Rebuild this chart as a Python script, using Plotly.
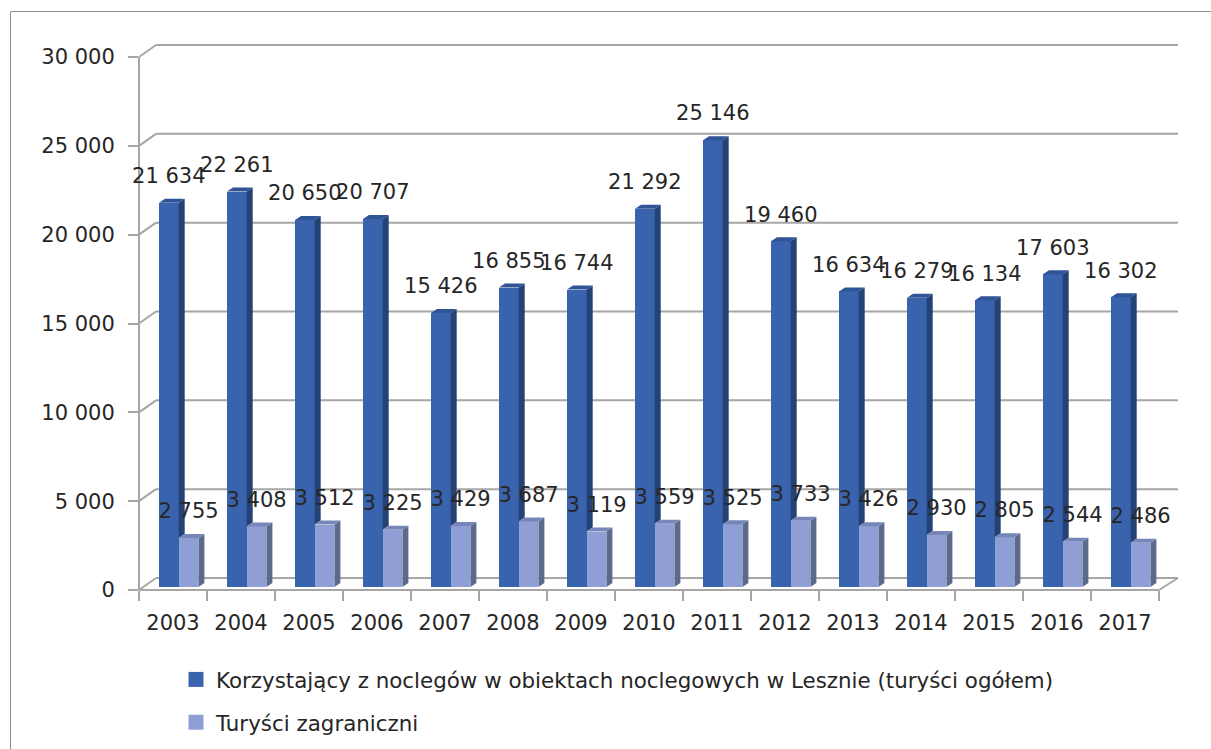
import plotly.graph_objects as go

years = [2003, 2004, 2005, 2006, 2007, 2008, 2009, 2010, 2011, 2012, 2013, 2014, 2015, 2016, 2017]
total = [21634, 22261, 20650, 20707, 15426, 16855, 16744, 21292, 25146, 19460, 16634, 16279, 16134, 17603, 16302]
foreign = [2755, 3408, 3512, 3225, 3429, 3687, 3119, 3559, 3525, 3733, 3426, 2930, 2805, 2544, 2486]
name_total = "Korzystający z noclegów w obiektach noclegowych w Lesznie (turyści ogółem)"
name_foreign = "Turyści zagraniczni"
y_ticks = [0, 5000, 10000, 15000, 20000, 25000, 30000]

W, H = 1211, 749
L, R, T, B = 139, 1178, 45, 590          # plot box in page pixels
CAT_PX = 68.0
UNIT_PX = 533 / 30000
px_x = lambda p: p / CAT_PX
px_y = lambda p: p / UNIT_PX

n = len(years)
FONT = "DejaVu Sans"
TXT = "#262626"
GRID = "#a6a6a6"
DARK, DARK_SIDE, DARK_TOP = "#3a63ad", "#254276", "#2f5596"
LIGHT, LIGHT_SIDE, LIGHT_TOP = "#8f9fd5", "#5c6a8e", "#7686b8"
FS = 21

base = px_y(3)            # bars stand slightly behind the front edge
off_a = px_x(20)
bar_w = px_x(19.7)
side_dx, side_dy = px_x(6), px_y(4)
back_dx, back_dy = px_x(17), px_y(12)
x_max = n + px_x(19)
y_max = 30000 + back_dy
pw, ph = R - L, B - T

fig = go.Figure()
idx = list(range(n))
fig.add_trace(go.Bar(x=idx, y=total, base=[base] * n, offset=off_a, width=bar_w,
                     marker=dict(color=DARK, line=dict(width=0)), name=name_total,
                     showlegend=False))
fig.add_trace(go.Bar(x=idx, y=foreign, base=[base] * n, offset=off_a + bar_w, width=bar_w,
                     marker=dict(color=LIGHT, line=dict(width=0)), name=name_foreign,
                     showlegend=False))


def add_poly(points, color):
    xs, ys = [], []
    for pts in points:
        for a, b in pts:
            xs.append(a)
            ys.append(b)
        xs.append(None)
        ys.append(None)
    fig.add_trace(go.Scatter(x=xs, y=ys, mode="lines", fill="toself", fillcolor=color,
                             line=dict(width=0), showlegend=False, hoverinfo="skip"))


dark_side, dark_top, light_side, light_top = [], [], [], []
for i in idx:
    l1 = i + off_a
    r1 = l1 + bar_w
    r2 = r1 + bar_w
    t1 = base + total[i]
    t2 = base + foreign[i]
    dark_side.append([(r1, t2), (r1 + side_dx, t2 + side_dy), (r1 + side_dx, t1 + side_dy), (r1, t1)])
    dark_top.append([(l1, t1), (r1, t1), (r1 + side_dx, t1 + side_dy), (l1 + side_dx, t1 + side_dy)])
    light_side.append([(r2, base), (r2 + side_dx, base + side_dy), (r2 + side_dx, t2 + side_dy), (r2, t2)])
    light_top.append([(r1, t2), (r2, t2), (r2 + side_dx, t2 + side_dy), (r1 + side_dx, t2 + side_dy)])
add_poly(dark_side, DARK_SIDE)
add_poly(dark_top, DARK_TOP)
add_poly(light_side, LIGHT_SIDE)
add_poly(light_top, LIGHT_TOP)

fmt = lambda v: f"{v:,}".replace(",", " ")
lab_up = px_y(25)
for xoff, vals in ((off_a + bar_w / 2, total), (off_a + bar_w * 1.5, foreign)):
    fig.add_trace(go.Scatter(x=[i + xoff for i in idx], y=[base + v + lab_up for v in vals],
                             text=[fmt(v) for v in vals], mode="text", textposition="middle center",
                             textfont=dict(family=FONT, size=FS, color=TXT),
                             showlegend=False, hoverinfo="skip", cliponaxis=False))

# legend entries with the reference's square size
for nm, col in ((name_total, DARK), (name_foreign, LIGHT)):
    fig.add_trace(go.Scatter(x=[None], y=[None], mode="markers", name=nm, legendgroup=nm,
                             marker=dict(symbol="square", size=15, color=col)))


def wall(x0, y0, x1, y1, color=GRID, width=2):
    return dict(type="line", xref="paper", yref="paper", layer="below",
                x0=x0 / x_max, y0=y0 / y_max, x1=x1 / x_max, y1=y1 / y_max,
                line=dict(color=color, width=width))


shapes = []
for v in y_ticks:
    shapes.append(wall(0, v, back_dx, v + back_dy))
    shapes.append(wall(back_dx, v + back_dy, x_max, v + back_dy))
shapes.append(wall(n, 0, x_max, back_dy))
shapes.append(wall(0, 0, n, 0))
shapes.append(wall(0, 0, 0, 30000))
for a in ((10.5, 11.5, 10.5, H), (10.5, 11.5, W, 11.5)):
    shapes.append(dict(type="line", xref="paper", yref="paper",
                       x0=(a[0] - L) / pw, y0=(B - a[1]) / ph, x1=(a[2] - L) / pw, y1=(B - a[3]) / ph,
                       line=dict(color="#8c8c8c", width=1)))

fig.update_layout(
    width=W, height=H, autosize=False,
    margin=dict(l=L, r=W - R, t=T, b=H - B, pad=0, autoexpand=False),
    paper_bgcolor="white", plot_bgcolor="white",
    barmode="overlay", bargap=0,
    font=dict(family=FONT, size=FS, color=TXT),
    showlegend=True,
    legend=dict(x=(176 - L) / pw, xanchor="left", y=(B - 659) / ph, yanchor="top",
                font=dict(family=FONT, size=21.4, color=TXT), itemsizing="trace",
                tracegroupgap=12, bgcolor="rgba(0,0,0,0)", borderwidth=0, traceorder="grouped"),
    xaxis=dict(range=[0, x_max], tickmode="array",
               tickvals=[i + 0.5 for i in idx], ticktext=[str(y) for y in years],
               ticks="", ticklen=0, ticklabelstandoff=18, showgrid=False, zeroline=False,
               showline=False, tickfont=dict(family=FONT, size=FS, color=TXT),
               minor=dict(tickmode="array", tickvals=list(range(n + 1)), ticks="outside",
                          ticklen=10, tickwidth=2, tickcolor=GRID, showgrid=False)),
    yaxis=dict(range=[0, y_max], tickmode="array", tickvals=y_ticks,
               ticktext=[fmt(v) for v in y_ticks], ticks="outside", ticklen=10, tickwidth=2,
               tickcolor=GRID, ticklabelstandoff=9, showgrid=False, zeroline=False,
               showline=False, tickfont=dict(family=FONT, size=FS, color=TXT)),
    shapes=shapes,
)

fig.write_html("out.html", config={"displayModeBar": False},
               post_script="document.body.style.margin='0';document.body.style.overflow='hidden';")
